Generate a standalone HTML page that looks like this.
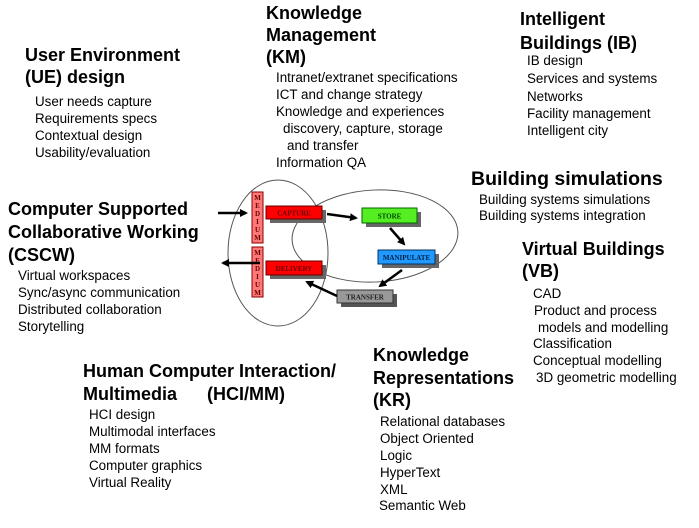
<!DOCTYPE html>
<html><head><meta charset="utf-8"><style>
body{margin:0;width:699px;height:528px;background:#fff;position:relative;overflow:hidden;font-family:"Liberation Sans",Arial,sans-serif;color:#000}
.h{position:absolute;font-weight:bold;font-size:18px;line-height:18px;white-space:nowrap}
.i{position:absolute;font-size:13.4px;line-height:15px;white-space:nowrap}
svg{position:absolute;left:0;top:0}
</style></head><body>
<svg width="699" height="528" viewBox="0 0 699 528">
<defs><marker id="a" markerWidth="8" markerHeight="8" refX="6" refY="4" orient="auto" markerUnits="userSpaceOnUse"><path d="M0,0 L8,4 L0,8 z" fill="#000"/></marker></defs>
<ellipse cx="278" cy="253" rx="50" ry="73" fill="none" stroke="#555" stroke-width="1"/>
<ellipse cx="375" cy="236" rx="83" ry="46" fill="none" stroke="#555" stroke-width="1" transform="rotate(-3 375 236)"/>
<g font-family="Liberation Serif,serif" font-weight="bold" font-size="7" text-anchor="middle">
<rect x="252" y="192" width="11" height="51" fill="#f77" stroke="#800"/>
<text x="257.5" y="200" fill="#600">M</text><text x="257.5" y="208" fill="#600">E</text><text x="257.5" y="216" fill="#600">D</text><text x="257.5" y="224" fill="#600">I</text><text x="257.5" y="232" fill="#600">U</text><text x="257.5" y="240" fill="#600">M</text>
<rect x="252" y="247" width="11" height="50" fill="#f77" stroke="#800"/>
<text x="257.5" y="255" fill="#600">M</text><text x="257.5" y="263" fill="#600">E</text><text x="257.5" y="271" fill="#600">D</text><text x="257.5" y="279" fill="#600">I</text><text x="257.5" y="287" fill="#600">U</text><text x="257.5" y="295" fill="#600">M</text>
<rect x="270" y="210" width="56" height="13" fill="#666"/>
<rect x="266" y="206" width="56" height="13" fill="#f00" stroke="#600"/><text x="294" y="215.5" fill="#600">CAPTURE</text>
<rect x="366" y="212" width="55" height="15" fill="#666"/>
<rect x="362" y="208" width="55" height="15" fill="#5e2" stroke="#060"/><text x="389.5" y="218.5" fill="#040">STORE</text>
<rect x="382" y="254" width="57" height="14" fill="#666"/>
<rect x="378" y="250" width="57" height="14" fill="#29f" stroke="#036"/><text x="406.5" y="260" fill="#024">MANIPULATE</text>
<rect x="270" y="265" width="56" height="14" fill="#666"/>
<rect x="266" y="261" width="56" height="14" fill="#f00" stroke="#600"/><text x="294" y="271" fill="#600">DELIVERY</text>
<rect x="341" y="294" width="56" height="13" fill="#555"/>
<rect x="337" y="290" width="56" height="13" fill="#999" stroke="#333"/><text x="365" y="299.5" fill="#222">TRANSFER</text>
</g>
<g stroke="#000" stroke-width="2.5" marker-end="url(#a)">
<line x1="218" y1="213" x2="246" y2="213"/>
<line x1="260" y1="263" x2="223" y2="263"/>
<line x1="327" y1="214" x2="356" y2="218"/>
<line x1="390" y1="228" x2="404" y2="244"/>
<line x1="402" y1="270" x2="380" y2="286"/>
<line x1="337" y1="296" x2="307" y2="282"/>
</g>
</svg>
<div class="h" style="left:25px;top:46px">User Environment</div>
<div class="h" style="left:25px;top:68px">(UE) design</div>
<div class="i" style="left:35px;top:94px">User needs capture</div>
<div class="i" style="left:35px;top:111px">Requirements specs</div>
<div class="i" style="left:35px;top:128px">Contextual design</div>
<div class="i" style="left:35px;top:145px">Usability/evaluation</div>

<div class="h" style="left:266px;top:4px">Knowledge</div>
<div class="h" style="left:266px;top:26px">Management</div>
<div class="h" style="left:266px;top:48px">(KM)</div>
<div class="i" style="left:276px;top:70px">Intranet/extranet specifications</div>
<div class="i" style="left:276px;top:87px">ICT and change strategy</div>
<div class="i" style="left:276px;top:104px">Knowledge and experiences</div>
<div class="i" style="left:283px;top:121px">discovery, capture, storage</div>
<div class="i" style="left:287px;top:138px">and transfer</div>
<div class="i" style="left:276px;top:155px">Information QA</div>

<div class="h" style="left:520px;top:10px">Intelligent</div>
<div class="h" style="left:520px;top:34px">Buildings (IB)</div>
<div class="i" style="left:527px;top:53px">IB design</div>
<div class="i" style="left:527px;top:71px">Services and systems</div>
<div class="i" style="left:527px;top:89px">Networks</div>
<div class="i" style="left:527px;top:106px">Facility management</div>
<div class="i" style="left:527px;top:123px">Intelligent city</div>

<div class="h" style="left:471px;top:170px;font-size:19.5px">Building simulations</div>
<div class="i" style="left:479px;top:192px">Building systems simulations</div>
<div class="i" style="left:479px;top:208px">Building systems integration</div>

<div class="h" style="left:522px;top:240px">Virtual Buildings</div>
<div class="h" style="left:522px;top:262px">(VB)</div>
<div class="i" style="left:533px;top:286px">CAD</div>
<div class="i" style="left:534px;top:303px">Product and process</div>
<div class="i" style="left:538px;top:320px">models and modelling</div>
<div class="i" style="left:533px;top:336px">Classification</div>
<div class="i" style="left:533px;top:353px">Conceptual modelling</div>
<div class="i" style="left:536px;top:370px">3D geometric modelling</div>

<div class="h" style="left:8px;top:200px">Computer Supported</div>
<div class="h" style="left:8px;top:223px">Collaborative Working</div>
<div class="h" style="left:8px;top:246px">(CSCW)</div>
<div class="i" style="left:18px;top:268px">Virtual workspaces</div>
<div class="i" style="left:18px;top:285px">Sync/async communication</div>
<div class="i" style="left:18px;top:302px">Distributed collaboration</div>
<div class="i" style="left:18px;top:319px">Storytelling</div>

<div class="h" style="left:83px;top:362px">Human Computer Interaction/</div>
<div class="h" style="left:83px;top:385px">Multimedia</div>
<div class="h" style="left:207px;top:385px">(HCI/MM)</div>
<div class="i" style="left:89px;top:407px">HCI design</div>
<div class="i" style="left:89px;top:424px">Multimodal interfaces</div>
<div class="i" style="left:89px;top:441px">MM formats</div>
<div class="i" style="left:89px;top:458px">Computer graphics</div>
<div class="i" style="left:89px;top:475px">Virtual Reality</div>

<div class="h" style="left:373px;top:346px">Knowledge</div>
<div class="h" style="left:373px;top:369px">Representations</div>
<div class="h" style="left:373px;top:391px">(KR)</div>
<div class="i" style="left:380px;top:414px">Relational databases</div>
<div class="i" style="left:380px;top:431px">Object Oriented</div>
<div class="i" style="left:380px;top:448px">Logic</div>
<div class="i" style="left:380px;top:465px">HyperText</div>
<div class="i" style="left:380px;top:482px">XML</div>
<div class="i" style="left:379px;top:498px">Semantic Web</div>
</body></html>
